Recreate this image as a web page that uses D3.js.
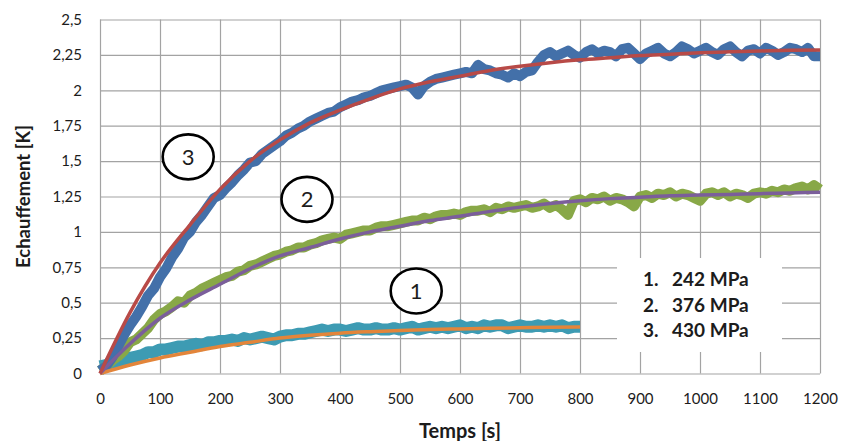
<!DOCTYPE html>
<html><head><meta charset="utf-8">
<script src="https://cdn.jsdelivr.net/npm/d3@7"></script>
<style>
body{margin:0;background:#fff;}
svg{display:block;font-family:Lato,"Open Sans",sans-serif;}
</style></head>
<body><svg id="c" width="841" height="441"></svg>
<script>
// ---- data ----
const xTicks = [0,100,200,300,400,500,600,700,800,900,1000,1100,1200];
const xTickLabels = ["0","100","200","300","400","500","600","700","800","900","1000","1100","1200"];
const yTicks = [0,0.25,0.5,0.75,1,1.25,1.5,1.75,2,2.25,2.5];
const yTickLabels = ["0","0,25","0,5","0,75","1","1,25","1,5","1,75","2","2,25","2,5"];

// fitted curves (every 50 s)
const tFit = [0,50,100,150,200,250,300,350,400,450,500,550,600,650,700,750,800,850,900,950,1000,1050,1100,1150,1200];
const fit3 = [0,0.43,0.78,1.05,1.30,1.50,1.65,1.77,1.86,1.94,2.01,2.06,2.10,2.14,2.17,2.195,2.215,2.23,2.245,2.255,2.265,2.272,2.278,2.282,2.285];
const fit2 = [0,0.21,0.39,0.52,0.63,0.74,0.83,0.89,0.95,1.00,1.04,1.08,1.11,1.145,1.175,1.20,1.22,1.235,1.245,1.255,1.26,1.265,1.27,1.275,1.28];
const tFit1 = [0,50,100,150,200,250,300,350,400,450,500,550,600,650,700,750,800];
const fit1 = [0,0.06,0.11,0.15,0.19,0.22,0.25,0.27,0.285,0.295,0.303,0.31,0.315,0.32,0.323,0.326,0.328];

// measured signals (every 10 s)
const raw3 = [0.02,0.05,0.11,0.19,0.27,0.34,0.40,0.47,0.55,0.60,0.68,0.74,0.82,0.88,0.96,1.00,1.07,1.12,1.18,1.24,
 1.26,1.31,1.35,1.40,1.44,1.49,1.50,1.55,1.58,1.61,1.64,1.68,1.70,1.73,1.75,1.78,1.80,1.82,1.84,1.85,
 1.88,1.90,1.92,1.93,1.95,1.96,1.98,2.00,2.01,2.02,2.03,2.04,2.02,1.97,2.03,2.06,2.08,2.09,2.10,2.11,
 2.12,2.13,2.12,2.18,2.15,2.14,2.12,2.11,2.09,2.12,2.10,2.13,2.14,2.20,2.25,2.27,2.24,2.26,2.28,2.25,
 2.23,2.27,2.29,2.26,2.28,2.27,2.24,2.29,2.30,2.26,2.22,2.26,2.28,2.30,2.26,2.24,2.27,2.31,2.29,2.26,
 2.28,2.30,2.27,2.25,2.29,2.31,2.27,2.24,2.28,2.29,2.26,2.30,2.28,2.25,2.27,2.30,2.29,2.27,2.30,2.24,2.24];
const raw2 = [0.02,0.05,0.09,0.12,0.16,0.22,0.24,0.28,0.32,0.38,0.42,0.44,0.47,0.51,0.50,0.55,0.57,0.60,0.62,0.64,
 0.66,0.68,0.69,0.72,0.73,0.76,0.77,0.79,0.81,0.83,0.84,0.86,0.87,0.89,0.89,0.91,0.92,0.94,0.95,0.96,
 0.95,0.98,0.99,1.00,1.01,1.01,1.03,1.04,1.04,1.05,1.06,1.07,1.08,1.08,1.10,1.09,1.11,1.12,1.12,1.13,
 1.12,1.14,1.15,1.15,1.16,1.14,1.17,1.16,1.18,1.17,1.18,1.19,1.17,1.18,1.20,1.17,1.19,1.16,1.12,1.22,
 1.23,1.21,1.24,1.23,1.25,1.22,1.24,1.23,1.21,1.18,1.25,1.26,1.24,1.27,1.26,1.28,1.25,1.27,1.26,1.24,
 1.22,1.27,1.28,1.26,1.28,1.25,1.27,1.26,1.24,1.27,1.28,1.27,1.29,1.28,1.30,1.29,1.31,1.32,1.30,1.33,1.30];
const raw1 = [0.05,0.06,0.07,0.08,0.10,0.11,0.12,0.13,0.15,0.15,0.17,0.17,0.18,0.19,0.19,0.20,0.21,0.20,0.22,0.22,
 0.23,0.23,0.24,0.23,0.25,0.24,0.25,0.26,0.25,0.24,0.26,0.27,0.27,0.28,0.28,0.29,0.30,0.31,0.30,0.31,
 0.31,0.30,0.31,0.32,0.31,0.31,0.32,0.31,0.31,0.32,0.31,0.32,0.33,0.31,0.32,0.33,0.32,0.33,0.32,0.33,
 0.34,0.32,0.33,0.32,0.34,0.33,0.34,0.34,0.32,0.33,0.34,0.33,0.33,0.34,0.33,0.34,0.33,0.34,0.32,0.33,0.33];
const tRaw = d3.range(0, 1201, 10);

const labelNums = ["1","2","3"];
const labelT = [527,345,147];
const labelV = [0.583,1.23,1.53];
const legendNums = ["1.","2.","3."];
const legendVals = ["242 MPa","376 MPa","430 MPa"];

// ---- layout ----
const svg = d3.select("#c");
const L = 100, R = 820, T = 19.5, B = 373.5;
const x = d3.scaleLinear().domain([0,1200]).range([L,R]);
const y = d3.scaleLinear().domain([0,2.5]).range([B,T]);
const grid = "#a3a3a3", txt = "#1c1c1c";

// gridlines + axes
const gy = svg.append("g").attr("transform",`translate(${L},0)`)
  .call(d3.axisLeft(y).tickValues(yTicks).tickFormat((d,i)=>yTickLabels[i]).tickSize(-(R-L)).tickPadding(18));
const gx = svg.append("g").attr("transform",`translate(0,${B})`)
  .call(d3.axisBottom(x).tickValues(xTicks).tickFormat((d,i)=>xTickLabels[i]).tickSize(-(B-T)).tickPadding(20));
[gx,gy].forEach(g=>{
  g.select(".domain").remove();
  g.selectAll(".tick line").attr("stroke",grid).attr("stroke-width",1.2);
  g.selectAll(".tick text").attr("fill",txt).style("font-size","15px").style("font-family","Lato");
});

// lines
const lineRaw = arr => d3.line().x((d,i)=>x(tRaw[i])).y(d=>y(d))(arr);
const lineFit = (ts,arr) => d3.line().curve(d3.curveMonotoneX).x((d,i)=>x(ts[i])).y(d=>y(d))(arr);
const plot = svg.append("g");
plot.append("path").attr("d",lineRaw(raw1)).attr("fill","none").attr("stroke","#3d9bb3").attr("stroke-width",12).attr("stroke-linejoin","round");
plot.append("path").attr("d",lineRaw(raw2)).attr("fill","none").attr("stroke","#88a847").attr("stroke-width",10).attr("stroke-linejoin","round");
plot.append("path").attr("d",lineRaw(raw3)).attr("fill","none").attr("stroke","#4370a9").attr("stroke-width",10).attr("stroke-linejoin","round");
plot.append("path").attr("d",lineFit(tFit1,fit1)).attr("fill","none").attr("stroke","#e3853a").attr("stroke-width",3.5);
plot.append("path").attr("d",lineFit(tFit,fit2)).attr("fill","none").attr("stroke","#7b5e9b").attr("stroke-width",3.5);
plot.append("path").attr("d",lineFit(tFit,fit3)).attr("fill","none").attr("stroke","#b84a47").attr("stroke-width",3.5);

// circled labels
const lab = svg.append("g").selectAll("g").data(labelNums).join("g")
  .attr("transform",(d,i)=>`translate(${x(labelT[i])},${y(labelV[i])})`);
lab.append("ellipse").attr("rx",25.5).attr("ry",22.5).attr("fill","#fff").attr("stroke","#000").attr("stroke-width",2.6);
lab.append("text").text(d=>d).attr("text-anchor","middle").attr("dy","0.36em")
  .attr("fill",txt).style("font-size","22px");

// legend box
svg.append("rect").attr("x",617).attr("y",258).attr("width",165).attr("height",94).attr("fill","#fff");
const lg = svg.append("g").selectAll("g").data(legendNums).join("g")
  .attr("transform",(d,i)=>`translate(0,${286 + i*25.5})`)
  .style("font-weight","bold").style("font-size","19px").attr("fill",txt);
lg.append("text").attr("x",643).text(d=>d);
lg.append("text").attr("x",672).text((d,i)=>legendVals[i]);

// axis titles
svg.append("text").attr("x",(L+R)/2).attr("y",438).attr("text-anchor","middle")
  .style("font-weight","bold").style("font-size","20px").attr("fill",txt).text("Temps [s]");
svg.append("text").attr("transform",`translate(30,${(T+B)/2}) rotate(-90)`).attr("text-anchor","middle")
  .style("font-weight","bold").style("font-size","18.5px").attr("fill",txt).text("Echauffement [K]");
</script></body></html>
